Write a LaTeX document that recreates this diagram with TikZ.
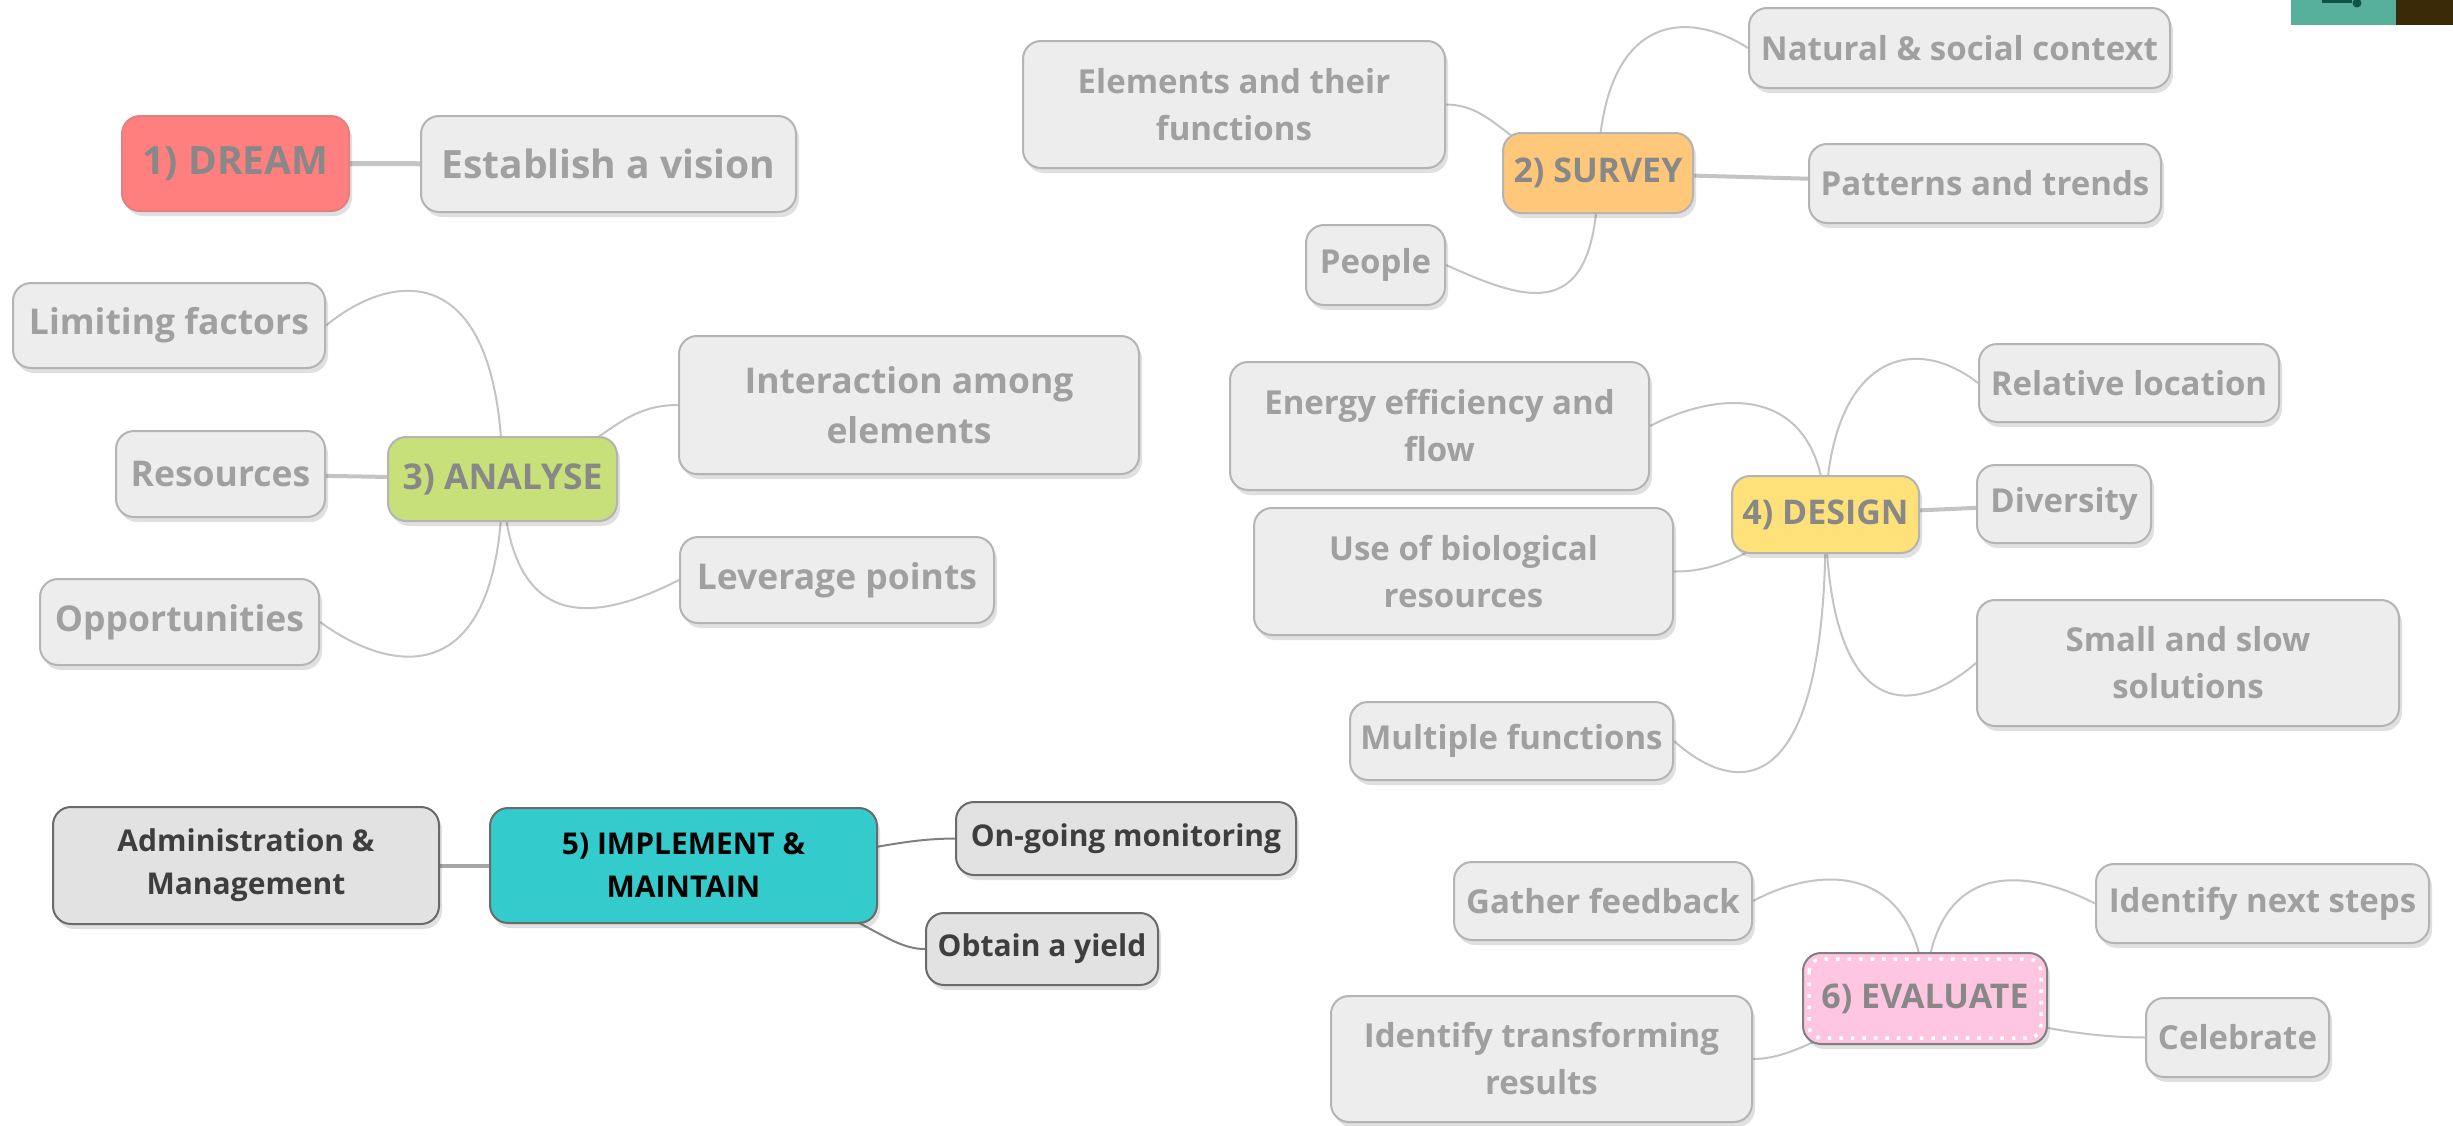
\documentclass[tikz,border=0pt]{standalone}
\usepackage{fontspec}
\setmainfont{Open Sans}
\usetikzlibrary{shadows,backgrounds}

\definecolor{leaffill}{HTML}{EDEDED}
\definecolor{leafline}{HTML}{B4B4B4}
\definecolor{leaftext}{HTML}{A0A0A0}
\definecolor{maintext}{HTML}{888888}
\definecolor{branchgray}{HTML}{C4C4C4}
\definecolor{dreamred}{HTML}{FF7F7F}
\definecolor{surveyorange}{HTML}{FFC77A}
\definecolor{analysegreen}{HTML}{C8E07A}
\definecolor{designyellow}{HTML}{FFE17A}
\definecolor{implementteal}{HTML}{33CBCB}
\definecolor{evaluatepink}{HTML}{FFC6E2}
\definecolor{workfill}{HTML}{E2E2E2}
\definecolor{workline}{HTML}{6A6A6A}
\definecolor{worktext}{HTML}{3E3E3E}
\definecolor{cornerteal}{HTML}{57B09A}
\definecolor{cornerbrown}{HTML}{3A2A08}
\definecolor{cornerglyph}{HTML}{0E5548}

\tikzset{
 mapbox/.style={rounded corners=18, line width=2, align=center, inner sep=0,
   drop shadow={shadow xshift=3pt, shadow yshift=-5pt, opacity=0.12, fill=black}},
 leaf/.style={mapbox, draw=leafline, fill=leaffill, text=leaftext,
   font=\fontsize{33}{47}\selectfont\bfseries},
 bigleaf/.style={leaf, font=\fontsize{35.5}{50}\selectfont\bfseries},
 topic/.style={mapbox, draw=leafline, text=maintext,
   font=\fontsize{34}{47}\selectfont\bfseries},
 work/.style={mapbox, draw=workline, fill=workfill, text=worktext,
   font=\fontsize{30}{43}\selectfont\bfseries},
 branch/.style={draw=branchgray, line width=2},
 trunk/.style={draw=branchgray, line width=4},
}

\begin{document}
\begin{tikzpicture}[x=1pt,y=-1pt]
 \useasboundingbox (0,0) rectangle (2453,1125);
 % 1) dream
 \node[topic, fill=dreamred, draw=dreamred!80!gray, font=\fontsize{39}{50}\selectfont\bfseries,
   minimum width=227, minimum height=95] (dream) at (235.5,163.5) {1) DREAM};
 \node[leaf, font=\fontsize{39}{50}\selectfont\bfseries,
   minimum width=375, minimum height=96] (vision) at (608.5,164) {Establish a vision};
 % 2) survey
 \node[topic, fill=surveyorange, minimum width=190, minimum height=80] (survey) at (1598,173) {2) SURVEY};
 \node[leaf, minimum width=422, minimum height=127] (elements) at (1234,104.5) {Elements and their\\functions};
 \node[leaf, minimum width=421, minimum height=80] (natural) at (1959.5,48) {Natural \& social context};
 \node[leaf, minimum width=352, minimum height=79] (patterns) at (1985,183.5) {Patterns and trends};
 \node[leaf, minimum width=139, minimum height=80] (people) at (1375.5,265) {People};
 % 3) analyse
 \node[topic, fill=analysegreen, font=\fontsize{35.5}{50}\selectfont\bfseries,
   minimum width=229, minimum height=84] (analyse) at (502.5,479) {3) ANALYSE};
 \node[bigleaf, minimum width=312, minimum height=85] (limit) at (169,325.5) {Limiting factors};
 \node[bigleaf, minimum width=209, minimum height=86] (resources) at (220.5,474) {Resources};
 \node[bigleaf, minimum width=279, minimum height=86] (chances) at (179.5,622) {Opportunities};
 \node[bigleaf, minimum width=460, minimum height=138] (interact) at (909,405) {Interaction among\\elements};
 \node[bigleaf, minimum width=314, minimum height=86] (leverage) at (837,580) {Leverage points};
 % 4) design
 \node[topic, fill=designyellow, minimum width=187, minimum height=77] (design) at (1825.5,514.5) {4) DESIGN};
 \node[leaf, minimum width=419, minimum height=128] (energy) at (1439.5,426) {Energy efficiency and\\flow};
 \node[leaf, minimum width=419, minimum height=127] (bio) at (1463.5,571.5) {Use of biological\\resources};
 \node[leaf, minimum width=300, minimum height=78] (relative) at (2129,383) {Relative location};
 \node[leaf, minimum width=174, minimum height=78] (diversity) at (2064,504) {Diversity};
 \node[leaf, minimum width=422, minimum height=126] (small) at (2188,663) {Small and slow\\solutions};
 \node[leaf, minimum width=323, minimum height=78] (multiple) at (1511.5,741) {Multiple functions};
 % 5) implement
 \node[work, fill=implementteal, text=black,
   minimum width=387, minimum height=115] (implement) at (683.5,865.5) {5) IMPLEMENT \&\\MAINTAIN};
 \node[work, minimum width=386, minimum height=117] (admin) at (246,865.5) {Administration \&\\Management};
 \node[work, minimum width=340, minimum height=73] (monitor) at (1126,838.5) {On-going monitoring};
 \node[work, minimum width=232, minimum height=72] (yield) at (1042,949) {Obtain a yield};
 % 6) evaluate
 \node[topic, fill=evaluatepink, draw=gray, minimum width=244, minimum height=91] (evaluate) at (1925,998.5) {6) EVALUATE};
 \draw[white, line width=3.5, dash pattern=on 3.5 off 8, rounded corners=12]
   ([shift={(7,7)}]evaluate.north west) rectangle ([shift={(-7,-7)}]evaluate.south east);
 \node[leaf, minimum width=298, minimum height=78] (feedback) at (1603,901) {Gather feedback};
 \node[leaf, minimum width=333, minimum height=79] (nextsteps) at (2262.5,903.5) {Identify next steps};
 \node[leaf, minimum width=421, minimum height=126] (transform) at (1541.5,1059) {Identify transforming\\results};
 \node[leaf, minimum width=183, minimum height=79] (celebrate) at (2237.5,1037.5) {Celebrate};
 %
 \fill[cornerteal] (2291,0) rectangle (2396,25);
 \fill[cornerbrown] (2396,0) rectangle (2453,25);
 \fill[cornerglyph] (2322,0) rectangle (2352,3);
 \fill[cornerglyph] (2357,3) circle (4.5);
 %
 \begin{scope}[on background layer]
  \fill[white] (0,0) rectangle (2453,1125);
  \draw[trunk, line width=5] (dream) -- (vision);
  %
  \draw[branch] (survey.center) .. controls (1510,160) and (1500,105) .. (elements.east);
  \draw[branch] (survey.center) .. controls (1600,20) and (1680,5) .. (natural.west);
  \draw[trunk] (survey) -- (patterns);
  \draw[branch] (survey.center) .. controls (1598,330) and (1525,300) .. (people.east);
  %
  \draw[branch] (analyse.center) .. controls (502,265) and (400,265) .. (limit.east);
  \draw[trunk] (analyse) -- (resources);
  \draw[branch] (analyse.center) .. controls (502,685) and (400,680) .. (chances.east);
  \draw[branch] (analyse.center) .. controls (600,460) and (610,405) .. (interact.west);
  \draw[branch] (analyse.center) .. controls (508,640) and (600,620) .. (leverage.west);
  %
  \draw[branch] (design.center) .. controls (1822,390) and (1730,385) .. (energy.east);
  \draw[branch] (design.center) .. controls (1760,540) and (1730,572) .. (bio.east);
  \draw[branch] (design.center) .. controls (1828,800) and (1740,800) .. (multiple.east);
  \draw[branch] (design.center) .. controls (1828,360) and (1910,330) .. (relative.west);
  \draw[trunk] (design) -- (diversity);
  \draw[branch] (design.center) .. controls (1828,720) and (1910,720) .. (small.west);
  %
  \draw[trunk, draw=gray!70] (implement) -- (admin);
  \draw[branch, draw=gray] (implement.center) .. controls (860,860) and (880,839) .. (monitor.west);
  \draw[branch, draw=gray] (implement.center) .. controls (860,900) and (880,949) .. (yield.west);
  %
  \draw[branch] (evaluate.center) .. controls (1921,870) and (1830,860) .. (feedback.east);
  \draw[branch] (evaluate.center) .. controls (1929,870) and (2010,860) .. (nextsteps.west);
  \draw[branch] (evaluate.center) .. controls (1840,1020) and (1800,1059) .. (transform.east);
  \draw[branch] (evaluate.center) .. controls (2040,1030) and (2090,1037) .. (celebrate.west);
 \end{scope}
\end{tikzpicture}
\end{document}
